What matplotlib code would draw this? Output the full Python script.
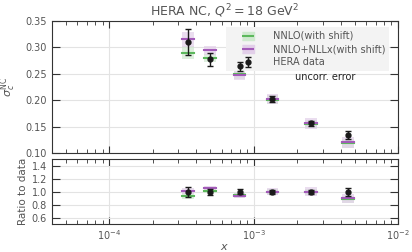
import matplotlib
matplotlib.use("Agg")
import matplotlib.pyplot as plt
from matplotlib.lines import Line2D
import numpy as np

# ── data ───────────────────────────────────────────────────────────────────────
x_vals = [3.5e-4, 5.0e-4, 8.0e-4, 1.35e-3, 2.5e-3, 4.5e-3]
data = [0.310, 0.277, 0.264, 0.202, 0.156, 0.134]
data_err = [0.024, 0.013, 0.009, 0.006, 0.005, 0.008]
nnlo = [0.290, 0.280, 0.250, 0.201, 0.155, 0.118]
nnlo_err = [0.013, 0.007, 0.010, 0.008, 0.008, 0.008]
nllx = [0.315, 0.294, 0.248, 0.202, 0.156, 0.120]
nllx_err = [0.014, 0.009, 0.010, 0.010, 0.010, 0.010]

GREEN, GREEN_L = "#5cb85c", "#cfe9cf"
PURPLE, PURPLE_L = "#a35bb9", "#e2cfe9"
TXT = "#555555"
SPINE = "#333333"

plt.rcParams.update({
    "font.family": "DejaVu Sans",
    "font.size": 7,
    "text.color": TXT,
    "axes.labelcolor": TXT,
    "axes.edgecolor": SPINE,
    "xtick.color": SPINE,
    "ytick.color": SPINE,
    "xtick.labelcolor": TXT,
    "ytick.labelcolor": TXT,
    "xtick.direction": "in",
    "ytick.direction": "in",
    "xtick.top": True,
    "ytick.right": True,
    "xtick.major.size": 5,
    "xtick.minor.size": 3,
    "ytick.major.size": 6,
    "xtick.major.pad": 2.5,
})

x = np.array(x_vals)
d = np.array(data)
de = np.array(data_err)
w = 10 ** 0.040  # half width of theory boxes (log factor)

fig = plt.figure(figsize=(4.12, 2.52), dpi=100)
ax = fig.add_axes([0.126, 0.393, 0.840, 0.524])
axr = fig.add_axes([0.126, 0.110, 0.840, 0.259], sharex=ax)


def draw_theory(a, cen, err, line_c, box_c):
    for xi, c, e in zip(x, cen, err):
        a.fill_between([xi / w, xi * w], c - e, c + e, color=box_c, alpha=0.7,
                       lw=0, zorder=2)
        a.plot([xi / w, xi * w], [c, c], color=line_c, lw=1.5, zorder=3)


draw_theory(ax, nnlo, nnlo_err, GREEN, GREEN_L)
draw_theory(ax, nllx, nllx_err, PURPLE, PURPLE_L)
eb = ax.errorbar(x, d, yerr=de, fmt="o", ms=3.5, color="#1a1a1a", lw=1,
                 capsize=2, zorder=7)

draw_theory(axr, np.array(nnlo) / d, np.array(nnlo_err) / d, GREEN, GREEN_L)
draw_theory(axr, np.array(nllx) / d, np.array(nllx_err) / d, PURPLE, PURPLE_L)
axr.errorbar(x, np.ones_like(d), yerr=de / d, fmt="o", ms=3.5, color="#1a1a1a",
             lw=1, capsize=2, zorder=7)

for a in (ax, axr):
    a.set_xscale("log")
    a.set_xlim(4e-5, 1e-2)
    a.grid(True, which="major", color="#e3e3e3", lw=0.8, zorder=0)
    a.set_axisbelow(True)

ax.set_ylim(0.10, 0.35)
ax.set_yticks(np.arange(0.10, 0.351, 0.05))
ax.yaxis.set_major_formatter(matplotlib.ticker.FormatStrFormatter("%.2f"))
ax.tick_params(labelbottom=False)
ax.set_ylabel(r"$\sigma_c^{\rm NC}$", fontsize=8, labelpad=5)
ax.set_title(r"HERA NC, $Q^2 = 18$ GeV$^2$", fontsize=9, color=TXT, pad=4)

axr.set_ylim(0.5, 1.5)
axr.set_yticks([0.6, 0.8, 1.0, 1.2, 1.4])
axr.set_ylabel("Ratio to data", fontsize=7.5, labelpad=3)
axr.set_xlabel(r"$x$", fontsize=8, labelpad=0)

box = [(-1.5, -1), (1.5, -1), (1.5, 1), (-1.5, 1)]
h_green = (Line2D([], [], marker=box, ms=8, ls="none", color=GREEN_L),
           Line2D([], [], marker="_", ms=8, mew=1.5, ls="none", color=GREEN))
h_purple = (Line2D([], [], marker=box, ms=8, ls="none", color=PURPLE_L),
            Line2D([], [], marker="_", ms=8, mew=1.5, ls="none", color=PURPLE))
leg = ax.legend([h_green, h_purple, eb],
                ["NNLO(with shift)", "NNLO+NLLx(with shift)", "HERA data"],
                loc="upper right", bbox_to_anchor=(0.988, 0.99), fontsize=7,
                handlelength=3.7, handletextpad=0.7, labelspacing=0.32,
                frameon=True, fancybox=False, borderpad=0.4)
leg.get_frame().set_facecolor("#f3f3f3")
leg.get_frame().set_edgecolor("none")
leg.get_frame().set_alpha(1)
leg.set_zorder(5)
ax.text(0.702, 0.576, "uncorr. error", transform=ax.transAxes, fontsize=7,
        color="#222222", ha="left", va="center")

fig.savefig("out.png", dpi=100)
